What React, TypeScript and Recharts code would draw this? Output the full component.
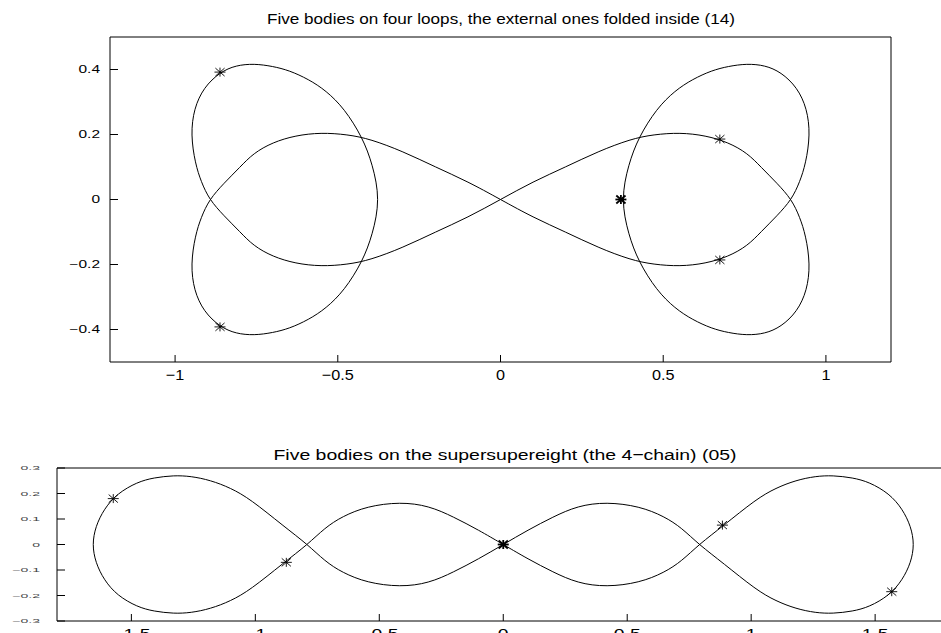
import React from "react"
import { ComposedChart, Line, Scatter, XAxis, YAxis } from "recharts"

// four-loop choreography, traced from the centre crossing
const fourLoopsOrbit: [number, number][] = [
  [0, 0],
  [-0.1, 0.055], [-0.2, 0.1], [-0.3, 0.148], [-0.4, 0.186], [-0.47, 0.2], [-0.552, 0.206],
  [-0.63, 0.197], [-0.7, 0.176], [-0.76, 0.142], [-0.8, 0.1], [-0.85, 0.05], [-0.895, 0],
  [-0.92, -0.055], [-0.938, -0.11], [-0.952, -0.2], [-0.942, -0.28], [-0.912, -0.345],
  [-0.862, -0.392], [-0.813, -0.413], [-0.757, -0.418], [-0.7, -0.41], [-0.649, -0.397],
  [-0.59, -0.37], [-0.536, -0.335], [-0.48, -0.28], [-0.424, -0.191], [-0.393, -0.108],
  [-0.37, 0], [-0.393, 0.108], [-0.424, 0.191], [-0.48, 0.28], [-0.536, 0.335],
  [-0.59, 0.37], [-0.649, 0.397], [-0.7, 0.41], [-0.757, 0.418], [-0.813, 0.413],
  [-0.862, 0.392], [-0.912, 0.345], [-0.942, 0.28], [-0.952, 0.2], [-0.938, 0.11],
  [-0.92, 0.055], [-0.895, 0], [-0.85, -0.05], [-0.8, -0.1], [-0.76, -0.142], [-0.7, -0.176],
  [-0.63, -0.197], [-0.552, -0.206], [-0.47, -0.2], [-0.4, -0.186], [-0.3, -0.148],
  [-0.2, -0.1], [-0.1, -0.055],
  [0, 0],
  [0.1, 0.055], [0.2, 0.1], [0.3, 0.148], [0.4, 0.186], [0.47, 0.2], [0.552, 0.206],
  [0.63, 0.197], [0.7, 0.176], [0.76, 0.142], [0.8, 0.1], [0.85, 0.05], [0.895, 0],
  [0.92, -0.055], [0.938, -0.11], [0.952, -0.2], [0.942, -0.28], [0.912, -0.345],
  [0.862, -0.392], [0.813, -0.413], [0.757, -0.418], [0.7, -0.41], [0.649, -0.397],
  [0.59, -0.37], [0.536, -0.335], [0.48, -0.28], [0.424, -0.191], [0.393, -0.108],
  [0.37, 0], [0.393, 0.108], [0.424, 0.191], [0.48, 0.28], [0.536, 0.335],
  [0.59, 0.37], [0.649, 0.397], [0.7, 0.41], [0.757, 0.418], [0.813, 0.413],
  [0.862, 0.392], [0.912, 0.345], [0.942, 0.28], [0.952, 0.2], [0.938, 0.11],
  [0.92, 0.055], [0.895, 0], [0.85, -0.05], [0.8, -0.1], [0.76, -0.142], [0.7, -0.176],
  [0.63, -0.197], [0.552, -0.206], [0.47, -0.2], [0.4, -0.186], [0.3, -0.148],
  [0.2, -0.1], [0.1, -0.055],
  [0, 0],
]
const fourLoopsLead: [number, number][] = [[0.37, 0]]
const fourLoopsBodies: [number, number][] = [
  [-0.862, 0.392], [-0.862, -0.392], [0.674, 0.186], [0.674, -0.186],
]

// supersupereight (4-chain), also starting at the centre
const chainOrbit: [number, number][] = [
  [0, 0],
  [0.1, -0.057], [0.2, -0.108], [0.3, -0.152], [0.416, -0.167], [0.55, -0.15], [0.65, -0.11],
  [0.72, -0.065], [0.789, 0], [0.886, 0.072], [1.02, 0.178], [1.1, 0.222], [1.181, 0.252],
  [1.26, 0.268], [1.329, 0.271], [1.41, 0.262], [1.476, 0.245], [1.557, 0.2], [1.61, 0.14],
  [1.645, 0.07], [1.658, 0], [1.645, -0.07], [1.61, -0.14], [1.557, -0.2], [1.476, -0.245],
  [1.41, -0.262], [1.329, -0.271], [1.26, -0.268], [1.181, -0.252], [1.1, -0.222],
  [1.02, -0.178], [0.886, -0.072], [0.789, 0], [0.72, 0.065], [0.65, 0.11], [0.55, 0.15],
  [0.416, 0.167], [0.3, 0.152], [0.2, 0.108], [0.1, 0.057],
  [0, 0],
  [-0.1, -0.057], [-0.2, -0.108], [-0.3, -0.152], [-0.416, -0.167], [-0.55, -0.15],
  [-0.65, -0.11], [-0.72, -0.065], [-0.789, 0], [-0.886, 0.072], [-1.02, 0.178],
  [-1.1, 0.222], [-1.181, 0.252], [-1.26, 0.268], [-1.329, 0.271], [-1.41, 0.262],
  [-1.476, 0.245], [-1.557, 0.2], [-1.61, 0.14], [-1.645, 0.07], [-1.658, 0],
  [-1.645, -0.07], [-1.61, -0.14], [-1.557, -0.2], [-1.476, -0.245], [-1.41, -0.262],
  [-1.329, -0.271], [-1.26, -0.268], [-1.181, -0.252], [-1.1, -0.222], [-1.02, -0.178],
  [-0.886, -0.072], [-0.789, 0], [-0.72, 0.065], [-0.65, 0.11], [-0.55, 0.15],
  [-0.416, 0.167], [-0.3, 0.152], [-0.2, 0.108], [-0.1, 0.057],
  [0, 0],
]
const chainLead: [number, number][] = [[0, 0]]
const chainBodies: [number, number][] = [
  [-1.573, 0.18], [-0.875, -0.07], [0.884, 0.076], [1.567, -0.185],
]

const topXTicks = [-1, -0.5, 0, 0.5, 1]
const topYTicks = [-0.4, -0.2, 0, 0.2, 0.4]
const bottomXTicks = [-1.5, -1, -0.5, 0, 0.5, 1, 1.5]
const bottomYTicks = [-0.3, -0.2, -0.1, 0, 0.1, 0.2, 0.3]

const topTitle = "Five bodies on four loops, the external ones folded inside (14)"
const bottomTitle = "Five bodies on the supersupereight (the 4\u2212chain) (05)"

const FONT = "'Liberation Sans', Arial, Helvetica, sans-serif"

const toPoints = (pts: [number, number][]) => pts.map(([x, y]) => ({ x, y }))

const fmt = (v: number) => (v < 0 ? "\u2212" + String(-v) : String(v))

// MATLAB-style '*' marker
function Star({ cx, cy, w }: { cx: number; cy: number; w: number }) {
  return (
    <g stroke="#000" strokeWidth={w} fill="none">
      <line x1={cx - 5.5} y1={cy} x2={cx + 5.5} y2={cy} />
      <line x1={cx} y1={cy - 4.5} x2={cx} y2={cy + 4.5} />
      <line x1={cx - 4.6} y1={cy - 4} x2={cx + 4.6} y2={cy + 4} />
      <line x1={cx - 4.6} y1={cy + 4} x2={cx + 4.6} y2={cy - 4} />
    </g>
  )
}

function TickText(props: any) {
  const { x, y, payload, size, sx, dy, anchor, fill } = props
  return (
    <text
      transform={`translate(${x},${y + dy}) scale(${sx},1)`}
      textAnchor={anchor}
      fontSize={size}
      fontFamily={FONT}
      fill={fill}
    >
      {fmt(payload.value)}
    </text>
  )
}

type Box = { top: number; right: number; bottom: number; left: number }

function Panel(props: {
  width: number
  height: number
  frame: Box
  orbit: [number, number][]
  lead: [number, number][]
  bodies: [number, number][]
  xDomain: [number, number]
  yDomain: [number, number]
  xTicks: number[]
  yTicks: number[]
  xLabel: { size: number; sx: number; dy: number }
  yLabel: { size: number; sx: number; margin: number; fill: string }
}) {
  const { xLabel, yLabel, frame } = props
  const axisStroke = { stroke: "#000", strokeWidth: 1 }
  return (
    <ComposedChart
      width={props.width}
      height={props.height}
      margin={{ top: 0, right: 0, bottom: 0, left: 0 }}
    >
      <XAxis
        xAxisId="b"
        dataKey="x"
        type="number"
        domain={props.xDomain}
        allowDataOverflow
        ticks={props.xTicks}
        interval={0}
        height={frame.bottom}
        tickSize={-7}
        tickMargin={7}
        axisLine={axisStroke}
        tickLine={axisStroke}
        tick={(p: any) => (
          <TickText {...p} size={xLabel.size} sx={xLabel.sx} dy={xLabel.dy} anchor="middle" fill="#000" />
        )}
      />
      <XAxis
        xAxisId="t"
        orientation="top"
        dataKey="x"
        type="number"
        domain={props.xDomain}
        allowDataOverflow
        ticks={props.xTicks}
        interval={0}
        height={frame.top}
        tickSize={-7}
        axisLine={axisStroke}
        tickLine={axisStroke}
        tick={false}
      />
      <YAxis
        yAxisId="l"
        dataKey="y"
        type="number"
        domain={props.yDomain}
        allowDataOverflow
        ticks={props.yTicks}
        interval={0}
        width={frame.left}
        tickSize={-8}
        tickMargin={yLabel.margin}
        axisLine={axisStroke}
        tickLine={axisStroke}
        tick={(p: any) => (
          <TickText {...p} size={yLabel.size} sx={yLabel.sx} dy={yLabel.size * 0.36} anchor="end" fill={yLabel.fill} />
        )}
      />
      <YAxis
        yAxisId="r"
        orientation="right"
        dataKey="y"
        type="number"
        domain={props.yDomain}
        allowDataOverflow
        ticks={props.yTicks}
        interval={0}
        width={frame.right}
        tickSize={-8}
        axisLine={axisStroke}
        tickLine={axisStroke}
        tick={false}
      />
      <Line
        xAxisId="b"
        yAxisId="l"
        data={toPoints(props.orbit)}
        dataKey="y"
        type="basis"
        dot={false}
        activeDot={false}
        stroke="#000"
        strokeWidth={1}
        isAnimationActive={false}
      />
      <Scatter
        xAxisId="b"
        yAxisId="l"
        data={toPoints(props.bodies)}
        dataKey="y"
        shape={(p: any) => <Star cx={p.cx} cy={p.cy} w={0.9} />}
        isAnimationActive={false}
      />
      <Scatter
        xAxisId="b"
        yAxisId="l"
        data={toPoints(props.lead)}
        dataKey="y"
        shape={(p: any) => <Star cx={p.cx} cy={p.cy} w={1.8} />}
        isAnimationActive={false}
      />
    </ComposedChart>
  )
}

export default function App() {
  return (
    <div
      style={{
        position: "fixed",
        left: 0,
        top: 0,
        width: 941,
        height: 633,
        overflow: "hidden",
        background: "#fff",
      }}
    >
      <div style={{ position: "absolute", left: 0, top: 0 }}>
        <Panel
          width={941}
          height={400}
          frame={{ top: 37, right: 50, bottom: 38, left: 110 }}
          orbit={fourLoopsOrbit}
          lead={fourLoopsLead}
          bodies={fourLoopsBodies}
          xDomain={[-1.2, 1.2]}
          yDomain={[-0.5, 0.5]}
          xTicks={topXTicks}
          yTicks={topYTicks}
          xLabel={{ size: 15, sx: 1.08, dy: 17.5 }}
          yLabel={{ size: 10, sx: 1.55, margin: 18, fill: "#000" }}
        />
      </div>
      <div style={{ position: "absolute", left: 0, top: 430 }}>
        <Panel
          width={1000}
          height={230}
          frame={{ top: 38, right: 50.5, bottom: 39, left: 57 }}
          orbit={chainOrbit}
          lead={chainLead}
          bodies={chainBodies}
          xDomain={[-1.8, 1.8]}
          yDomain={[-0.3, 0.3]}
          xTicks={bottomXTicks}
          yTicks={bottomYTicks}
          xLabel={{ size: 15.5, sx: 1.25, dy: 18 }}
          yLabel={{ size: 5.6, sx: 2.5, margin: 25, fill: "#444" }}
        />
      </div>
      <svg
        width={941}
        height={633}
        style={{ position: "absolute", left: 0, top: 0, pointerEvents: "none" }}
      >
        <text
          x={501}
          y={23.5}
          textAnchor="middle"
          fontSize={15.5}
          fontFamily={FONT}
          textLength={468}
          lengthAdjust="spacingAndGlyphs"
        >
          {topTitle}
        </text>
        <text
          x={505}
          y={459.5}
          textAnchor="middle"
          fontSize={15.5}
          fontFamily={FONT}
          textLength={463}
          lengthAdjust="spacingAndGlyphs"
        >
          {bottomTitle}
        </text>
      </svg>
    </div>
  )
}
